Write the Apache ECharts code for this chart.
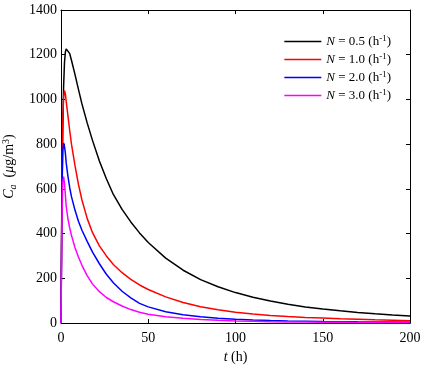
<!DOCTYPE html>
<html>
<head>
<meta charset="utf-8">
<script src="https://cdn.jsdelivr.net/npm/echarts@6/dist/echarts.min.js"></script>
<style>
  html, body { margin: 0; padding: 0; background: #fff; }
  #chart { width: 425px; height: 366px; }
</style>
</head>
<body>
<div id="chart"></div>
<script>
// time points (h)
const tHours = [0, 0.5, 1, 1.5, 2, 2.5, 3, 4, 5, 6, 8, 10, 12, 15, 18, 22, 26, 30, 35, 40, 45,
  50, 60, 70, 80, 90, 100, 110, 120, 130, 140, 150, 160, 170, 180, 190, 200];

// Ca (ug/m3) for each air change rate
const caN05 = [0, 520, 860, 1060, 1165, 1212, 1226, 1224, 1205, 1175, 1112, 1045, 980, 895, 818, 725, 645, 575, 508, 452, 403,
  360, 290, 236, 194, 162, 136, 115, 98, 84, 72, 62.5, 54.5, 47.5, 41.5, 36.3, 31.8];
const caN10 = [0, 600, 900, 1010, 1040, 1025, 990, 925, 860, 800, 705, 620, 550, 468, 405, 345, 300, 262, 225, 195, 170,
  150, 117, 92, 73, 59, 48, 40, 34, 29, 25, 22, 19, 16.5, 14, 12, 10];
const caN20 = [0, 550, 770, 805, 790, 760, 715, 655, 605, 565, 505, 455, 415, 365, 318, 265, 218, 180, 142, 112, 88,
  72, 50, 37, 28, 21, 16.5, 13.5, 11, 9, 7.8, 6.8, 6, 5.2, 4.6, 4, 3.5];
const caN30 = [0, 450, 630, 655, 625, 575, 520, 465, 425, 392, 338, 295, 258, 212, 175, 140, 114, 95, 76, 60, 48,
  39, 28, 21, 16, 12, 9.5, 7.5, 6, 5, 4.2, 3.6, 3.1, 2.7, 2.3, 2, 1.8];

const seriesNames = ['0.5', '1.0', '2.0', '3.0'];
const seriesData = [caN05, caN10, caN20, caN30];
const seriesColors = ['#000000', '#ff0000', '#0000ff', '#ff00ff'];

const font = 'Liberation Serif';

const chart = echarts.init(document.getElementById('chart'));

const pairs = (ys) => tHours.map((t, i) => [t, ys[i]]);

const axisCommon = {
  axisLine: { show: true, onZero: false, lineStyle: { color: '#000', width: 1 } },
  axisTick: { show: true, inside: true, length: 4, lineStyle: { color: '#000' } },
  splitLine: { show: false }
};

chart.setOption({
  animation: false,
  textStyle: { fontFamily: font },
  grid: { left: 61, right: 15, top: 10, bottom: 43, containLabel: false, outerBoundsMode: 'none' },
  legend: {
    orient: 'vertical',
    right: 29,
    top: 29,
    itemWidth: 37,
    itemHeight: 13,
    itemGap: 4,
    itemStyle: { opacity: 0 },
    lineStyle: { width: 1.5 },
    data: seriesNames.map((n) => 'N = ' + n),
    formatter: (name) => '{i|N} = ' + name.slice(4) + ' (h{s|-1})',
    textStyle: {
      fontFamily: font,
      fontSize: 13,
      color: '#000',
      rich: {
        i: { fontFamily: font, fontStyle: 'italic', fontSize: 13 },
        s: { fontFamily: font, fontSize: 9, verticalAlign: 'top', padding: [0, 0, 6, 0] }
      }
    }
  },
  xAxis: [
    Object.assign({}, axisCommon, {
      type: 'value', min: 0, max: 200, interval: 50,
      name: '{i|t} (h)',
      nameLocation: 'middle',
      nameGap: 27,
      nameTextStyle: {
        fontFamily: font, fontSize: 14, color: '#000',
        rich: { i: { fontFamily: font, fontStyle: 'italic', fontSize: 14 } }
      },
      axisLabel: { color: '#000', fontSize: 14, fontFamily: font, margin: 8 }
    }),
    Object.assign({}, axisCommon, {
      type: 'value', min: 0, max: 200, interval: 50, position: 'top',
      axisLabel: { show: false }
    })
  ],
  yAxis: [
    Object.assign({}, axisCommon, {
      type: 'value', min: 0, max: 1400, interval: 200,
      name: '{i|C}{sub|a}  ({i|\u03bc}g/m{sup|3})',
      nameLocation: 'middle',
      nameRotate: 90,
      nameGap: 25,
      nameTextStyle: {
        fontFamily: font, fontSize: 14, color: '#000',
        rich: {
          i: { fontFamily: font, fontStyle: 'italic', fontSize: 14 },
          sub: { fontFamily: font, fontStyle: 'italic', fontSize: 10, verticalAlign: 'bottom', padding: [6, 0, 0, 0] },
          sup: { fontFamily: font, fontSize: 10, verticalAlign: 'top', padding: [0, 0, 7, 0] }
        }
      },
      axisLabel: { color: '#000', fontSize: 14, fontFamily: font, margin: 4, formatter: (v) => String(v) }
    }),
    Object.assign({}, axisCommon, {
      type: 'value', min: 0, max: 1400, interval: 200, position: 'right',
      axisLabel: { show: false }
    })
  ],
  series: seriesData.map((ys, i) => ({
    name: 'N = ' + seriesNames[i],
    type: 'line',
    data: pairs(ys),
    showSymbol: false,
    symbol: 'none',
    smooth: false,
    lineStyle: { color: seriesColors[i], width: 1.5 },
    itemStyle: { color: seriesColors[i] }
  }))
});
</script>
</body>
</html>
